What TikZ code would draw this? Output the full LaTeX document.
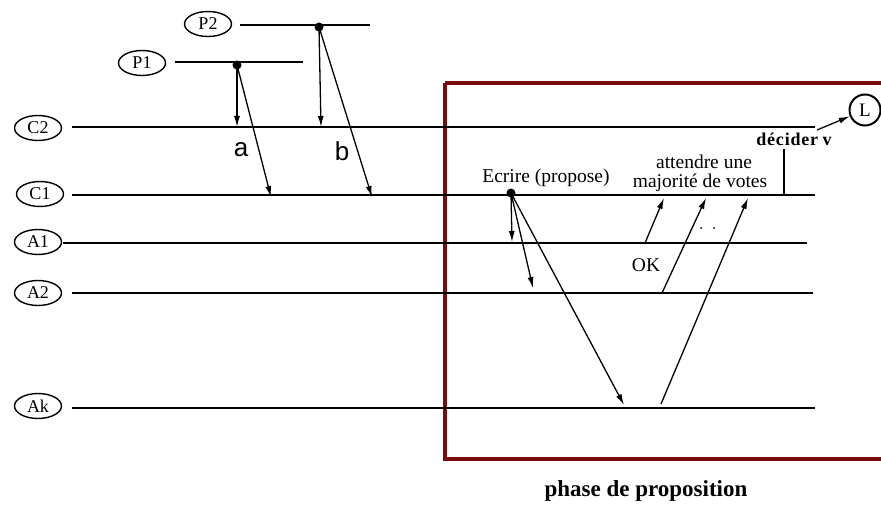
\documentclass[tikz,border=0pt]{standalone}
\usepackage{fontspec}
\setmainfont{Liberation Serif}
\newfontfamily\sansf{Liberation Sans}
\usetikzlibrary{shapes.geometric,arrows.meta}
\definecolor{boxred}{HTML}{7B0A0A}
\begin{document}
\begin{tikzpicture}[x=1pt,y=-1pt,
  proc/.style={draw,ellipse,line width=1.4pt,minimum width=47pt,minimum height=25pt,inner sep=0pt,font=\fontsize{18}{18}\selectfont},
  tl/.style={line width=1.5pt},
  msg/.style={line width=1.3pt,-{Latex[length=11pt,width=6pt]}},
  dotn/.style={circle,fill,inner sep=0pt,minimum size=9pt},
  lbl/.style={font=\fontsize{19.5}{20}\selectfont,inner sep=0pt}]
\useasboundingbox (0,0) rectangle (881,505);
% box
\draw[boxred,line width=3.2pt] (445,83) -- (895,83) (445,83) -- (445,459) -- (895,459);
% process labels
\node[proc] (P2) at (208,24) {P2};
\node[proc] (P1) at (142,63) {P1};
\node[proc] (C2) at (38,128) {C2};
\node[proc] (C1) at (40,194) {C1};
\node[proc] (A1) at (38,242) {A1};
\node[proc] (A2) at (38,293) {A2};
\node[proc] (Ak) at (38,406) {Ak};
% time lines
\coordinate (p2s) at (240,25); \coordinate (p2e) at (370,25);
\coordinate (p1s) at (175,62); \coordinate (p1e) at (303,62);
\coordinate (c2s) at (72,127); \coordinate (c2e) at (815,127);
\coordinate (c1s) at (72,195); \coordinate (c1e) at (815,195);
\coordinate (a1s) at (63,243); \coordinate (a1e) at (807,243);
\coordinate (a2s) at (72,293); \coordinate (a2e) at (813,293);
\coordinate (aks) at (72,408); \coordinate (ake) at (815,408);
\draw[tl] (p2s) -- (p2e) (p1s) -- (p1e) (c2s) -- (c2e) (c1s) -- (c1e)
  (a1s) -- (a1e) (a2s) -- (a2e) (aks) -- (ake);
% P1, P2 events
\node[dotn] (d1) at (237,65) {};
\node[dotn] (d2) at (319,27) {};
\coordinate (t1a) at (237,127); \coordinate (t1b) at (271,197);
\coordinate (t2a) at (321,127); \coordinate (t2b) at (372,197);
\draw[msg] (d1.center) -- (t1a);
\draw[msg] (d1.center) -- (t1b);
\draw[msg] (d2.center) -- (t2a);
\draw[msg] (d2.center) -- (t2b);
\node[font=\fontsize{26}{26}\sansf,inner sep=0pt] (la) at (241,150) {a};
\node[font=\fontsize{26}{26}\sansf,inner sep=0pt] (lb) at (342,151) {b};
% Ecrire
\node[dotn] (de) at (511,193) {};
\node[lbl] (ecr) at (546,178) {Ecrire (propose)};
\coordinate (e1) at (512,242); \coordinate (e2) at (533,288); \coordinate (e3) at (624,405);
\draw[msg] (de.center) -- (e1);
\draw[msg] (de.center) -- (e2);
\draw[msg] (de.center) -- (e3);
% votes
\coordinate (v1s) at (645,243); \coordinate (v1e) at (664,198);
\coordinate (v2s) at (662,293); \coordinate (v2e) at (706,198);
\coordinate (v3s) at (661,404); \coordinate (v3e) at (748,198);
\draw[msg] (v1s) -- (v1e);
\draw[msg] (v2s) -- (v2e);
\draw[msg] (v3s) -- (v3e);
\node[lbl] (ok) at (646,265) {OK};
\fill (701,228) circle (1pt) (714,228) circle (1pt);
\node[lbl] (att1) at (704,162) {attendre une};
\node[lbl] (att2) at (700,183) {majorité de votes};
% decide
\coordinate (vt) at (784,149); \coordinate (vb) at (784,195);
\draw[tl] (vt) -- (vb);
\node[font=\fontsize{18}{18}\selectfont\bfseries,inner sep=0pt] (dec) at (794,139) {d\kern0.8pt é\kern0.8pt c\kern0.8pt i\kern0.8pt d\kern0.8pt e\kern0.8pt r v};
\node[draw,circle,line width=2pt,minimum size=31pt,inner sep=0pt,font=\fontsize{19}{19}\selectfont] (L) at (865,110) {L};
\coordinate (ls) at (817,130);
\draw[msg] (ls) -- (L);
% caption
\node[font=\fontsize{23}{23}\selectfont\bfseries,inner sep=0pt] (cap) at (646,491) {phase de proposition};
\end{tikzpicture}
\end{document}
